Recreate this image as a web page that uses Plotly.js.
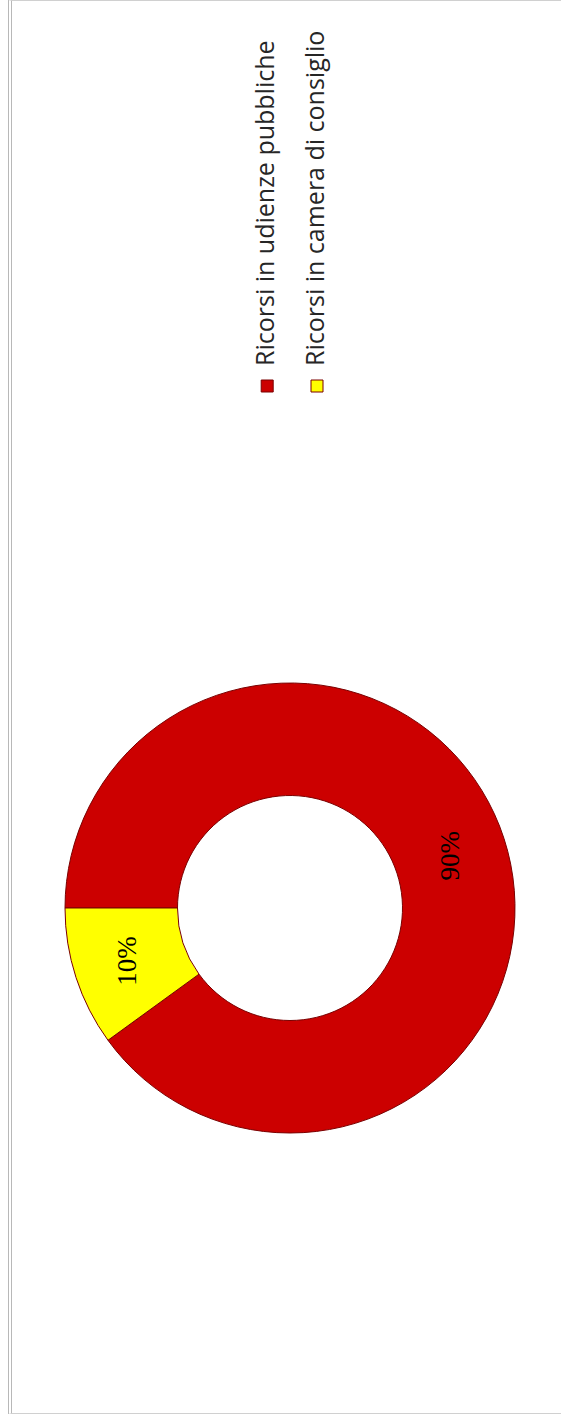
<!DOCTYPE html>
<html>
<head>
<meta charset="utf-8">
<script src="https://cdn.plot.ly/plotly-3.0.1.min.js"></script>
<style>
  html, body { margin: 0; padding: 0; background: #fff; }
  #wrap { position: relative; width: 561px; height: 1416px; overflow: hidden; background: #fff; }
  #rot { position: absolute; left: 0; top: 0; width: 1416px; height: 561px;
         transform-origin: 0 0; transform: translateY(1416px) rotate(-90deg); }
  #frame { position: absolute; left: 2px; top: 8px; width: 1414px; height: 600px;
           border-top: 4px double #b8b8b8; border-left: 1px solid #d0d0d0; border-right: 1px solid #d0d0d0;
           box-sizing: border-box; }
  #chart { position: absolute; left: 0; top: 0; width: 1416px; height: 561px; }
</style>
</head>
<body>
<div id="wrap">
  <div id="rot">
    <div id="frame"></div>
    <div id="chart"></div>
  </div>
</div>
<script>
const categories = ["Ricorsi in udienze pubbliche", "Ricorsi in camera di consiglio"];
const values = [90, 10];
const colors = ["#cc0000", "#ffff00"];

const legendTextSize = 25;

const trace = {
  type: "pie",
  labels: categories.map(c => '<span style="font-size:' + legendTextSize + 'px">' + c + '</span><br> '),
  values: values,
  sort: false,
  direction: "clockwise",
  rotation: 0,
  hole: 0.5,
  marker: { colors: colors, line: { color: "#7a0000", width: 1 } },
  textinfo: "percent",
  texttemplate: "%{percent:.0%}",
  textposition: "inside",
  insidetextorientation: "horizontal",
  textfont: { family: "Liberation Serif, Times New Roman, serif", size: 27, color: "#000" },
  domain: { x: [283 / 1416, 733 / 1416], y: [46 / 561, 496 / 561] },
  hoverinfo: "percent"
};

const layout = {
  width: 1416,
  height: 561,
  margin: { l: 0, r: 0, t: 0, b: 0 },
  paper_bgcolor: "rgba(0,0,0,0)",
  plot_bgcolor: "rgba(0,0,0,0)",
  showlegend: true,
  legend: {
    x: 1010 / 1416, xanchor: "left",
    y: 1 - 249 / 561, yanchor: "top",
    valign: "top",
    font: { family: "Open Sans, Lato, sans-serif", size: 18, color: "#262626" },
    bgcolor: "rgba(0,0,0,0)"
  }
};

Plotly.newPlot("chart", [trace], layout, { staticPlot: true, displayModeBar: false });
</script>
</body>
</html>
